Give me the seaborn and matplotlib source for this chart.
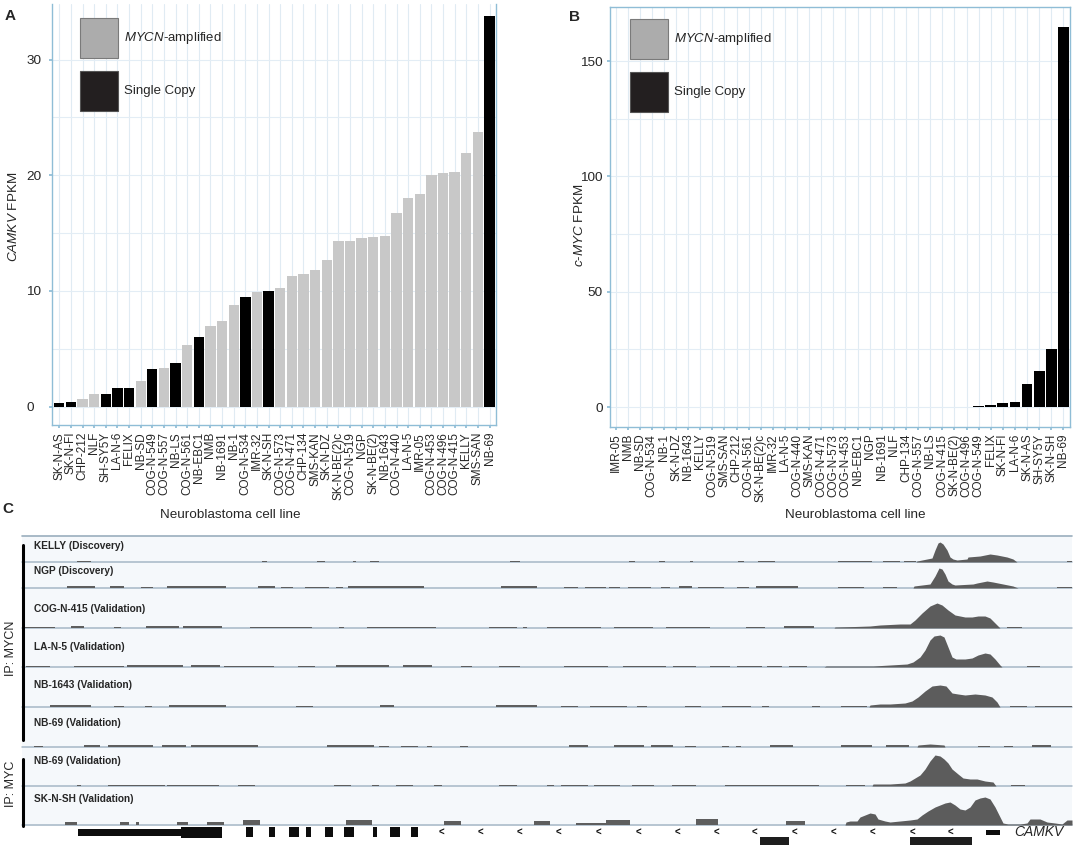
import matplotlib
matplotlib.use('Agg')
import matplotlib.pyplot as plt
from matplotlib.patches import Patch, Rectangle
import pandas as pd
import seaborn as sns

sns.set_theme(style='white')
plt.rcParams['font.family'] = ['Liberation Sans', 'DejaVu Sans']
plt.rcParams['mathtext.fontset'] = 'custom'
plt.rcParams['mathtext.rm'] = 'Liberation Sans'
plt.rcParams['mathtext.it'] = 'Liberation Sans:italic'

# ---- data: panel A (CAMKV expression) ----
a_lines = ['SK-N-AS', 'SK-N-FI', 'CHP-212', 'NLF', 'SH-SY5Y', 'LA-N-6', 'FELIX', 'NB-SD',
           'COG-N-549', 'COG-N-557', 'NB-LS', 'COG-N-561', 'NB-EBC1', 'NMB', 'NB-1691', 'NB-1',
           'COG-N-534', 'IMR-32', 'SK-N-SH', 'COG-N-573', 'COG-N-471', 'CHP-134', 'SMS-KAN',
           'SK-N-DZ', 'SK-N-BE(2)c', 'COG-N-519', 'NGP', 'SK-N-BE(2)', 'NB-1643', 'COG-N-440',
           'LA-N-5', 'IMR-05', 'COG-N-453', 'COG-N-496', 'COG-N-415', 'KELLY', 'SMS-SAN', 'NB-69']
a_fpkm = [0.32, 0.40, 0.66, 1.09, 1.12, 1.64, 1.64, 2.24, 3.25, 3.36, 3.76, 5.34, 6.00, 6.98,
          7.39, 8.76, 9.45, 9.89, 10.03, 10.26, 11.29, 11.47, 11.84, 12.67, 14.31, 14.31, 14.57,
          14.63, 14.77, 16.78, 18.05, 18.39, 20.03, 20.20, 20.26, 21.93, 23.74, 33.74]

# ---- data: panel B (c-MYC expression) ----
b_lines = ['IMR-05', 'NMB', 'NB-SD', 'COG-N-534', 'NB-1', 'SK-N-DZ', 'NB-1643', 'KELLY',
           'COG-N-519', 'SMS-SAN', 'CHP-212', 'COG-N-561', 'SK-N-BE(2)c', 'IMR-32', 'LA-N-5',
           'COG-N-440', 'SMS-KAN', 'COG-N-471', 'COG-N-573', 'COG-N-453', 'NB-EBC1', 'NGP',
           'NB-1691', 'NLF', 'CHP-134', 'COG-N-557', 'NB-LS', 'COG-N-415', 'SK-N-BE(2)',
           'COG-N-496', 'COG-N-549', 'FELIX', 'SK-N-FI', 'LA-N-6', 'SK-N-AS', 'SH-SY5Y',
           'SK-N-SH', 'NB-69']
b_fpkm = [0.01, 0.01, 0.01, 0.02, 0.02, 0.02, 0.03, 0.03, 0.03, 0.04, 0.04, 0.05, 0.05, 0.06,
          0.06, 0.07, 0.07, 0.08, 0.08, 0.09, 0.10, 0.10, 0.11, 0.12, 0.13, 0.14, 0.15, 0.17,
          0.20, 0.25, 0.43, 0.72, 1.59, 2.17, 9.97, 15.75, 25.40, 164.8]

single_copy = ['SK-N-AS', 'SK-N-FI', 'SH-SY5Y', 'LA-N-6', 'FELIX', 'COG-N-549', 'NB-LS',
               'NB-EBC1', 'COG-N-534', 'SK-N-SH', 'NB-69']

# ---- data: panel C (ChIP-seq coverage, position in kb, signal height) ----
kelly_pk = [(89.4, 0), (89.5, 1), (90.0, 2), (91.0, 4), (91.3, 12), (91.6, 19), (91.8, 20),
            (92.1, 18), (92.5, 12), (92.8, 5), (93.1, 3), (93.5, 2), (94.5, 3), (94.6, 5),
            (95.8, 6), (96.8, 8), (97.5, 7), (98.5, 5), (99.1, 3), (99.5, 0)]
kelly_bg = [(5.5, 6.9, 1), (24.0, 24.5, 1), (29.5, 30.3, 1), (33.1, 33.4, 1), (34.8, 35.7, 1),
            (48.8, 49.8, 1), (60.7, 61.3, 1), (63.7, 64.3, 1), (66.8, 67.1, 1), (71.6, 72.2, 1),
            (73.6, 75.3, 1), (81.6, 85.0, 1), (86.1, 87.8, 1), (88.2, 89.4, 1), (104.5, 105.0, 1)]

ngp_pk = [(89.1, 0), (89.2, 2), (90.0, 3), (90.8, 4), (91.3, 12), (91.7, 20), (92.0, 19),
          (92.3, 14), (92.6, 7), (93.0, 4), (93.3, 3), (95.1, 4), (95.5, 5), (96.5, 7),
          (97.1, 6), (98.1, 4), (99.1, 2), (99.6, 0)]
ngp_bg = [(4.5, 7.3, 2), (8.8, 10.2, 1.5), (11.9, 13.1, 1), (14.5, 20.4, 1.5), (23.6, 25.3, 1.5),
          (25.9, 27.1, 1), (28.3, 30.7, 1), (31.4, 32.1, 1), (32.6, 40.2, 1.5), (47.9, 51.5, 1.5),
          (54.2, 55.6, 1), (56.3, 58.4, 1), (58.7, 59.8, 1), (60.6, 62.9, 1), (63.9, 64.8, 1),
          (65.7, 67.0, 2), (67.6, 70.2, 1), (71.5, 72.7, 1), (73.4, 77.6, 2), (81.6, 84.2, 1),
          (86.1, 87.5, 1), (103.5, 105.0, 1)]

cog415_pk = [(81.2, 0), (81.3, 1), (83.3, 1.5), (84.8, 2), (85.8, 3), (87.8, 4), (88.8, 4),
             (89.3, 8), (90.0, 15), (90.8, 22), (91.5, 25), (92.0, 23), (92.6, 18), (93.3, 13),
             (94.3, 11), (95.0, 11), (95.6, 12), (96.3, 12), (96.8, 10), (97.3, 5), (97.8, 0)]
cog415_bg = [(0.2, 3.3, 1), (4.9, 6.2, 1.5), (9.2, 9.9, 1), (12.4, 15.7, 1.5), (16.1, 20.0, 2),
             (22.8, 29.0, 0.8), (31.7, 32.2, 1), (34.5, 41.4, 1.2), (46.7, 49.5, 1),
             (50.1, 50.5, 1), (52.5, 57.9, 1), (59.2, 63.1, 1), (64.4, 68.8, 1), (72.4, 74.3, 1),
             (76.2, 79.2, 1.5), (98.5, 100.0, 1)]

lan5_pk = [(80.2, 0), (80.4, 1), (85.1, 1), (88.5, 3), (89.1, 5), (89.8, 10), (90.3, 17),
           (90.8, 27), (91.2, 31), (91.8, 32), (92.2, 30), (92.6, 20), (93.0, 10), (93.4, 8),
           (94.3, 8), (95.0, 9), (95.6, 12), (96.3, 14), (96.8, 13), (97.3, 8), (97.8, 2), (98.0, 0)]
lan5_bg = [(0.4, 2.8, 1), (5.2, 10.2, 1.2), (10.5, 16.1, 1.5), (16.9, 19.8, 1.5), (20.2, 25.2, 1),
           (27.6, 29.3, 1), (31.4, 36.7, 1.5), (38.1, 41.0, 1.5), (43.9, 45.0, 1), (47.7, 49.8, 1),
           (54.2, 58.6, 1), (60.1, 64.4, 1), (65.1, 67.4, 1), (68.8, 70.8, 1), (71.5, 74.0, 1),
           (74.5, 76.0, 1), (76.7, 78.5, 1), (100.5, 101.8, 1)]

nb1643_pk = [(84.7, 0), (84.8, 2), (85.8, 3), (86.8, 3), (88.3, 4), (89.0, 6), (89.6, 10),
             (90.3, 16), (91.0, 21), (91.8, 22), (92.4, 21), (93.0, 14), (93.6, 13), (94.3, 12),
             (95.3, 13), (96.3, 12), (97.0, 10), (97.5, 5), (97.8, 0)]
nb1643_bg = [(2.8, 6.9, 1.5), (9.2, 10.2, 1), (12.3, 13.0, 1), (14.7, 20.4, 1.5), (27.4, 29.1, 1),
             (35.8, 37.2, 1.5), (47.4, 51.5, 1.5), (53.9, 55.6, 1), (56.8, 60.5, 1),
             (61.5, 62.5, 1), (66.3, 67.9, 1), (70.0, 72.9, 1), (74.0, 74.7, 1), (79.0, 79.8, 1),
             (81.9, 84.5, 1), (98.8, 100.5, 1), (101.3, 105.0, 0.8)]

nb69n_pk = [(89.5, 0), (89.6, 2), (90.8, 3), (92.2, 2), (92.3, 0)]
nb69n_bg = [(1.2, 2.1, 1), (6.2, 7.8, 1.5), (8.6, 13.1, 1.5), (14.0, 16.4, 1.5), (16.9, 23.6, 1.5),
            (30.5, 35.2, 2), (35.7, 36.7, 1), (37.9, 39.6, 1), (40.5, 41.0, 1), (43.8, 44.6, 1),
            (54.7, 56.6, 1.5), (59.2, 62.2, 1.5), (62.9, 65.1, 1.5), (66.3, 67.4, 1),
            (70.0, 70.7, 1), (71.4, 71.9, 1), (74.8, 77.1, 1.5), (81.9, 85.0, 2), (86.4, 88.7, 2),
            (95.6, 96.8, 1), (98.2, 99.1, 1), (101.0, 102.9, 1.5)]

nb69c_pk = [(85.0, 0), (85.1, 2), (86.8, 2), (88.3, 3), (88.8, 5), (89.3, 8), (89.8, 11),
            (90.3, 17), (90.8, 25), (91.3, 31), (91.8, 30), (92.2, 27), (92.6, 23), (93.0, 17),
            (93.6, 12), (94.1, 8), (94.8, 7), (95.5, 7), (96.3, 5), (97.1, 4), (97.4, 0)]
nb69c_bg = [(5.5, 5.9, 1), (8.6, 14.3, 1), (14.5, 19.7, 1), (21.6, 23.3, 1), (31.2, 32.9, 1),
            (35.0, 35.7, 1), (37.4, 39.1, 1.5), (41.2, 42.0, 1), (47.7, 49.5, 1.5), (52.5, 53.2, 1),
            (53.9, 56.6, 1), (57.2, 59.8, 1), (61.0, 63.2, 1), (65.0, 67.4, 1), (70.3, 79.7, 1),
            (82.4, 84.3, 1), (98.9, 100.3, 1)]

sknsh_pk = [(82.3, 0), (82.4, 3), (82.8, 4), (83.5, 4), (83.8, 8), (84.3, 10), (84.8, 12),
            (85.3, 11), (85.6, 6), (86.3, 4), (86.8, 3), (87.8, 4), (88.8, 5), (89.5, 6),
            (90.0, 10), (90.6, 14), (91.3, 18), (91.8, 20), (92.3, 22), (92.8, 23), (93.3, 20),
            (93.8, 16), (94.3, 15), (94.8, 18), (95.3, 25), (95.8, 27), (96.3, 28), (96.8, 26),
            (97.3, 18), (97.8, 8), (98.1, 2), (98.6, 1), (99.8, 1), (100.5, 2), (100.8, 6),
            (101.8, 6), (102.5, 3), (103.3, 2), (104.0, 1), (104.5, 5), (105.0, 5)]
sknsh_bg = [(4.3, 5.5, 3), (9.8, 10.7, 3), (11.4, 11.7, 3), (15.5, 16.6, 3), (18.5, 20.2, 3),
            (22.1, 23.8, 5.5), (32.4, 35.0, 5), (42.2, 43.9, 4), (51.2, 52.8, 4), (55.4, 58.4, 2),
            (58.4, 60.8, 5), (67.4, 69.6, 6), (76.4, 78.3, 4)]

track_labels = ['KELLY (Discovery)', 'NGP (Discovery)', 'COG-N-415 (Validation)',
                'LA-N-5 (Validation)', 'NB-1643 (Validation)', 'NB-69 (Validation)',
                'NB-69 (Validation)', 'SK-N-SH (Validation)']
track_peaks = [kelly_pk, ngp_pk, cog415_pk, lan5_pk, nb1643_pk, nb69n_pk, nb69c_pk, sknsh_pk]
track_bgs = [kelly_bg, ngp_bg, cog415_bg, lan5_bg, nb1643_bg, nb69n_bg, nb69c_bg, sknsh_bg]

# CAMKV gene model (kb)
utr_span = (5.6, 15.9)
cds_span = (15.9, 20.0)
exons = [(22.4, 23.1), (24.7, 25.3), (26.7, 27.7), (28.4, 28.9), (30.3, 31.1), (32.2, 33.2),
         (35.1, 35.5), (36.8, 37.8), (38.9, 39.6)]
strand_marks = [41.9, 45.8, 49.7, 53.6, 57.6, 61.6, 65.5, 69.4, 73.2, 77.2, 81.1, 85.0, 89.0, 92.8]
other_blocks = [(73.8, 76.7), (88.8, 95.0)]
small_block = (96.4, 97.8)

# ---- layout helpers ----
W, H = 1083, 846
GRAY = '#c8c8c8'
BLACK = '#000000'
SPINE = '#8fbdd6'


def frac_rect(l, t, r, b):
    return [l / W, 1 - b / H, (r - l) / W, (b - t) / H]


def px2kb(p):
    return (p - 22) / 10


fig = plt.figure(figsize=(W / 100, H / 100), dpi=100)


def bar_panel(ax, lines, vals, ylim, xlim, major, minor, ylabel, leg_xy, ylab_xy, xlab_xy, ypad):
    df = pd.DataFrame({'line': lines, 'fpkm': vals})
    df['status'] = ['Single Copy' if l in single_copy else 'MYCN-amplified' for l in lines]
    sns.barplot(data=df, x='line', y='fpkm', hue='status', order=lines,
                hue_order=['MYCN-amplified', 'Single Copy'],
                palette={'MYCN-amplified': GRAY, 'Single Copy': BLACK},
                dodge=False, width=0.89, saturation=1, linewidth=0, errorbar=None,
                legend=False, ax=ax)
    ax.set_xlim(*xlim)
    ax.set_ylim(*ylim)
    ax.set_axisbelow(True)
    ax.set_yticks(major)
    ax.set_yticks(minor, minor=True)
    ax.grid(axis='y', which='both', color='#e3edf5', lw=0.8)
    ax.grid(axis='x', which='major', color='#e0ebf3', lw=0.8)
    for s in ax.spines.values():
        s.set_color(SPINE)
        s.set_linewidth(1.0)
    ax.tick_params(axis='x', rotation=90, labelsize=8.5, length=2, pad=3, color=SPINE, bottom=True)
    ax.tick_params(axis='y', which='major', labelsize=9.7, length=2, pad=ypad, color=SPINE, left=True)
    ax.tick_params(axis='y', which='minor', length=0)
    ax.set_ylabel(ylabel, fontsize=9.7)
    ax.yaxis.set_label_coords(*ylab_xy)
    ax.set_xlabel('Neuroblastoma cell line', fontsize=9.7)
    ax.xaxis.set_label_coords(*xlab_xy)
    handles = [Patch(facecolor='#acacac', edgecolor='#7a7a7a', lw=0.8),
               Patch(facecolor='#231f20', edgecolor='#555555', lw=0.8)]
    ax.legend(handles, [r'$\it{MYCN}$-amplified', 'Single Copy'], loc='upper left',
              bbox_to_anchor=leg_xy, frameon=False, fontsize=9.5, handlelength=2.9,
              handleheight=4.3, labelspacing=0.95, handletextpad=0.4, borderpad=0,
              borderaxespad=0)


ax_a = fig.add_axes(frac_rect(52.3, 4, 495.7, 425))
bar_panel(ax_a, a_lines, a_fpkm, (-1.58, 34.8), (-0.6, 37.53), [0, 10, 20, 30], [5, 15, 25],
          r'$\it{CAMKV}$ FPKM', (0.0625, 0.967), (-0.073, 0.495), (0.402, -0.2), 16.9)
ax_a.spines['top'].set_visible(False)
for lbl in ax_a.get_yticklabels():
    lbl.set_horizontalalignment('left')

ax_b = fig.add_axes(frac_rect(609.5, 6.7, 1070, 426.7))
bar_panel(ax_b, b_lines, b_fpkm, (-8.5, 173.6), (-0.5, 37.55), [0, 50, 100, 150], [25, 75, 125],
          r'$\it{c}$-$\it{MYC}$ FPKM', (0.0445, 0.971), (-0.052, 0.479), (0.533, -0.196), 3)

# ---- panel C: coverage tracks ----
axc = fig.add_axes([0, 0, 1, (H - 528) / H])
axc.set_xlim(px2kb(0), px2kb(W))
axc.set_ylim(H, 528)
axc.axis('off')
axc.add_patch(Rectangle((0, 536), 105, 290, color='#f5f8fb', lw=0, zorder=0))
axc.plot([0, 105], [536, 536], color='#9aaebd', lw=1.2, zorder=1)

baselines = [562, 588, 628, 667, 707, 747, 786, 825]
label_ys = [546, 571.5, 609, 647, 685, 723, 761, 799]
for lab, base, ly, pk, bg in zip(track_labels, baselines, label_ys, track_peaks, track_bgs):
    axc.plot([0, 105], [base, base], color='#a6b8c6', lw=1.1, zorder=1)
    for a, b, h in bg:
        axc.fill_between([a, b], [base, base], [base - h, base - h], color='#5e5e5e', lw=0, zorder=2)
    xs = [p[0] for p in pk]
    hs = [base - p[1] for p in pk]
    axc.fill_between(xs, base, hs, color='#5c5c5c', lw=0, zorder=2)
    axc.text(px2kb(34), ly, lab, fontsize=7.3, fontweight='bold', ha='left', va='center',
             family=['Liberation Sans Narrow', 'Liberation Sans'], zorder=3)

axc.plot([0.05, 0.05], [545, 740], color='black', lw=2.2, zorder=3)
axc.plot([0.05, 0.05], [759, 826], color='black', lw=2.2, zorder=3)
axc.text(px2kb(11), 648, 'IP: MYCN', rotation=90, ha='center', va='center', fontsize=9)
axc.text(px2kb(11), 784, 'IP: MYC', rotation=90, ha='center', va='center', fontsize=9)

# gene model
axc.add_patch(Rectangle((utr_span[0], 829), utr_span[1] - utr_span[0], 7, color='#0d0d0d', lw=0))
axc.add_patch(Rectangle((cds_span[0], 827), cds_span[1] - cds_span[0], 11, color='#0d0d0d', lw=0))
for s, e in exons:
    axc.add_patch(Rectangle((s, 827), e - s, 10, color='#0d0d0d', lw=0))
for s, e in other_blocks:
    axc.add_patch(Rectangle((s, 837), e - s, 8, color='#1e1e1e', lw=0))
axc.add_patch(Rectangle((small_block[0], 830), small_block[1] - small_block[0], 5,
                        color='#0d0d0d', lw=0))
for x in strand_marks:
    axc.text(x, 832.5, '<', ha='center', va='center', fontsize=7, fontweight='bold', color='#111111')
axc.text(px2kb(1014), 832, 'CAMKV', style='italic', fontsize=10, ha='left', va='center')

# panel letters
for letter, x, y in [('A', 10, 16), ('B', 575, 17), ('C', 8, 509)]:
    fig.text(x / W, 1 - y / H, letter, fontsize=11, fontweight='bold', ha='center', va='center')

fig.savefig('out.png', dpi=100)
